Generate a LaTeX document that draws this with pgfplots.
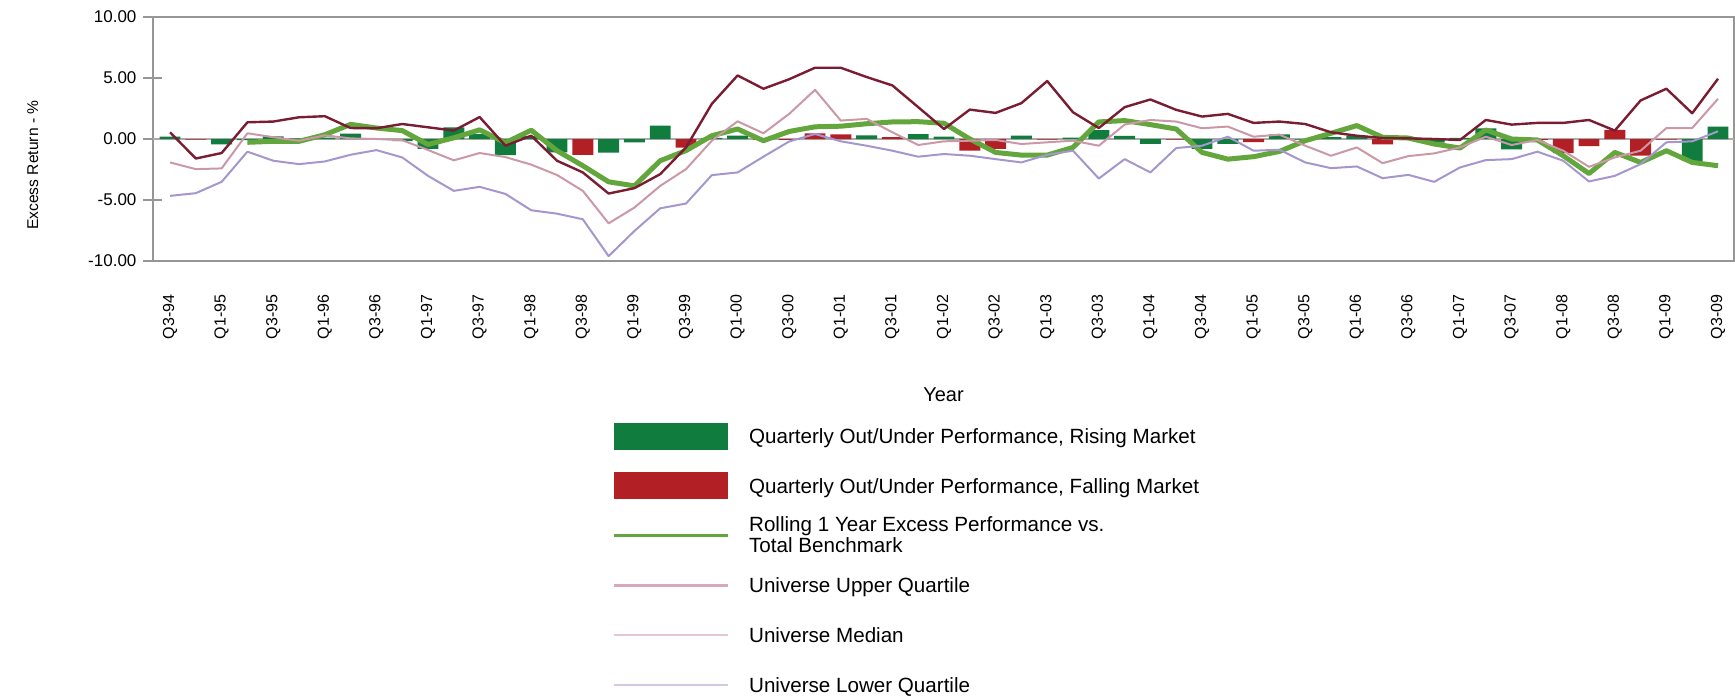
\documentclass[border=0pt]{standalone}
\usepackage{fontspec}
\setmainfont{Liberation Sans}
\usepackage{pgfplots}
\usepackage{pgfplotstable}
\pgfplotsset{compat=1.18}

\definecolor{risegreen}{RGB}{16,125,63}
\definecolor{fallred}{RGB}{178,32,38}
\definecolor{rollgreen}{RGB}{98,166,60}
\definecolor{upcol}{RGB}{122,28,50}
\definecolor{medcol}{RGB}{202,152,166}
\definecolor{lowcol}{RGB}{165,150,205}
\definecolor{legup}{RGB}{215,168,190}
\definecolor{legmed}{RGB}{228,198,214}
\definecolor{leglow}{RGB}{212,200,228}
\definecolor{axgray}{RGB}{150,150,150}

\pgfplotstableread{
i up med low roll
0 0.55 -1.92 -4.66 nan
1 -1.60 -2.47 -4.44 nan
2 -1.15 -2.41 -3.51 nan
3 1.37 0.47 -1.04 -0.27
4 1.43 0.15 -1.78 -0.19
5 1.78 -0.15 -2.06 -0.19
6 1.87 0.30 -1.84 0.35
7 0.90 0.05 -1.29 1.20
8 0.88 0.00 -0.91 0.90
9 1.23 -0.10 -1.51 0.69
10 0.96 -0.90 -3.02 -0.45
11 0.69 -1.75 -4.25 0.10
12 1.80 -1.15 -3.92 0.75
13 -0.55 -1.48 -4.50 -0.30
14 0.27 -2.10 -5.84 0.72
15 -1.78 -2.95 -6.12 -0.96
16 -2.74 -4.25 -6.58 -2.19
17 -4.47 -6.91 -9.60 -3.51
18 -4.03 -5.62 -7.54 -3.84
19 -2.88 -3.84 -5.68 -1.78
20 -0.69 -2.47 -5.29 -0.95
21 2.88 -0.14 -2.96 0.27
22 5.21 1.45 -2.74 0.82
23 4.12 0.47 -1.45 -0.14
24 4.90 2.06 -0.20 0.62
25 5.84 4.03 0.41 1.00
26 5.84 1.51 -0.19 1.05
27 5.08 1.65 -0.55 1.25
28 4.39 0.55 -0.96 1.40
29 2.61 -0.49 -1.45 1.42
30 0.82 -0.19 -1.23 1.29
31 2.41 -0.14 -1.37 0.00
32 2.14 -0.08 -1.65 -1.10
33 2.94 -0.41 -1.92 -1.32
34 4.75 -0.27 -1.29 -1.32
35 2.19 -0.14 -0.96 -0.69
36 0.90 -0.55 -3.24 1.40
37 2.61 1.18 -1.65 1.51
38 3.24 1.56 -2.74 1.18
39 2.39 1.43 -0.74 0.82
40 1.84 0.88 -0.55 -1.10
41 2.06 1.02 0.19 -1.65
42 1.32 0.19 -0.96 -1.45
43 1.43 0.36 -0.88 -1.02
44 1.23 -0.55 -1.92 -0.14
45 0.55 -1.37 -2.39 0.47
46 0.27 -0.69 -2.25 1.10
47 0.08 -1.98 -3.21 0.14
48 0.05 -1.40 -2.94 0.08
49 0.00 -1.18 -3.51 -0.41
50 -0.08 -0.69 -2.33 -0.74
51 1.56 0.19 -1.73 0.74
52 1.18 -0.49 -1.65 0.00
53 1.32 -0.08 -1.04 -0.08
54 1.32 -0.96 -1.78 -1.37
55 1.56 -2.28 -3.48 -2.83
56 0.69 -1.51 -3.02 -1.10
57 3.16 -0.96 -2.06 -1.92
58 4.12 0.90 -0.27 -0.96
59 2.11 0.90 -0.19 -1.92
60 4.94 3.29 0.63 -2.19
}\lines

\pgfplotstableread{
i v
0 0.20
2 -0.45
3 -0.10
4 0.22
5 0.05
6 0.12
7 0.45
8 -0.05
9 -0.18
10 -0.80
11 0.95
12 0.40
13 -1.32
14 0.25
15 -1.10
17 -1.12
18 -0.27
19 1.10
21 0.10
22 0.28
27 0.30
29 0.40
30 0.20
33 0.28
35 0.12
36 0.72
37 0.25
38 -0.40
40 -0.80
41 -0.40
43 0.38
44 -0.05
45 0.15
46 0.25
48 -0.05
49 -0.30
50 0.10
51 0.88
52 -0.85
59 -1.80
60 1.02
}\rising

\pgfplotstableread{
i v
1 -0.05
16 -1.30
20 -0.70
23 -0.05
24 -0.08
25 0.47
26 0.38
28 0.15
31 -0.95
32 -0.80
34 -0.05
39 -0.05
42 -0.25
47 -0.45
53 -0.08
54 -1.15
55 -0.58
56 0.75
57 -1.37
58 -0.05
}\falling

\begin{document}
\begin{tikzpicture}
\useasboundingbox (-76.5pt,-217.5pt) rectangle (791pt,130.5pt);
\begin{axis}[
  at={(0pt,0pt)}, anchor=south west,
  width=790.5pt, height=122pt, scale only axis,
  xmin=-0.66, xmax=60.62, ymin=-10, ymax=10,
  xtick={0,2,...,60},
  xticklabels={Q3-94,Q1-95,Q3-95,Q1-96,Q3-96,Q1-97,Q3-97,Q1-98,Q3-98,Q1-99,Q3-99,Q1-00,Q3-00,Q1-01,Q3-01,Q1-02,Q3-02,Q1-03,Q3-03,Q1-04,Q3-04,Q1-05,Q3-05,Q1-06,Q3-06,Q1-07,Q3-07,Q1-08,Q3-08,Q1-09,Q3-09},
  ytick={-10,-5,0,5,10},
  yticklabels={-10.00,-5.00,0.00,5.00,10.00},
  xtick style={draw=none},
  ytick pos=left,
  tick align=center,
  major tick length=9.5pt,
  axis line style={draw=axgray, line width=0.8pt},
  ytick style={draw=axgray, line width=0.8pt},
  xticklabel style={rotate=90, anchor=east, font=\fontsize{8}{10}\selectfont},
  xticklabel shift=8.5pt,
  yticklabel style={font=\fontsize{8.5}{10}\selectfont},
  xlabel={Year},
  xlabel style={at={(axis description cs:0.5,-0.549)}, anchor=center, font=\fontsize{10}{12}\selectfont},
  ylabel={Excess Return - \%},
  ylabel style={at={(axis description cs:-0.076,0.393)}, anchor=center, font=\fontsize{7.8}{10}\selectfont},
  legend cell align=left,
  legend style={at={(0.2903,-0.658)}, anchor=north west, draw=none, fill=none,
    inner sep=0pt, row sep=10.7pt, column sep=8pt,
    nodes={inner sep=2pt},
    font=\fontsize{10.3}{12.4}\selectfont},
]
\addplot[forget plot, color=axgray!80, line width=0.6pt] coordinates {(-0.66,0) (60.62,0)};

\addplot[ybar, bar width=0.81, bar shift=0pt, fill=risegreen, draw=none,
  legend image code/.code={\fill[risegreen] (0pt,-6.75pt) rectangle (57pt,6.75pt);}]
  table[x=i, y=v] {\rising};
\addlegendentry{\strut Quarterly Out/Under Performance, Rising Market}

\addplot[ybar, bar width=0.81, bar shift=0pt, fill=fallred, draw=none,
  legend image code/.code={\fill[fallred] (0pt,-6.75pt) rectangle (57pt,6.75pt);}]
  table[x=i, y=v] {\falling};
\addlegendentry{\strut Quarterly Out/Under Performance, Falling Market}

\addplot[rollgreen, line width=2.5pt, line join=round,
  legend image code/.code={\draw[rollgreen, line width=1.4pt] (0pt,0pt) -- (57pt,0pt);}]
  table[x=i, y=roll] {\lines};
\addlegendentry{\strut{\renewcommand\arraystretch{0.8}\smash{\begin{tabular}[c]{@{}l@{}}Rolling 1 Year Excess Performance vs.\\Total Benchmark\end{tabular}}}}

\addplot[upcol, line width=1.2pt, line join=round,
  legend image code/.code={\draw[legup, line width=1.4pt] (0pt,0pt) -- (57pt,0pt);}]
  table[x=i, y=up] {\lines};
\addlegendentry{\strut Universe Upper Quartile}

\addplot[medcol, line width=1pt, line join=round,
  legend image code/.code={\draw[legmed, line width=1.2pt] (0pt,0pt) -- (57pt,0pt);}]
  table[x=i, y=med] {\lines};
\addlegendentry{\strut Universe Median}

\addplot[lowcol, line width=1pt, line join=round,
  legend image code/.code={\draw[leglow, line width=1.2pt] (0pt,0pt) -- (57pt,0pt);}]
  table[x=i, y=low] {\lines};
\addlegendentry{\strut Universe Lower Quartile}
\end{axis}
\end{tikzpicture}
\end{document}
